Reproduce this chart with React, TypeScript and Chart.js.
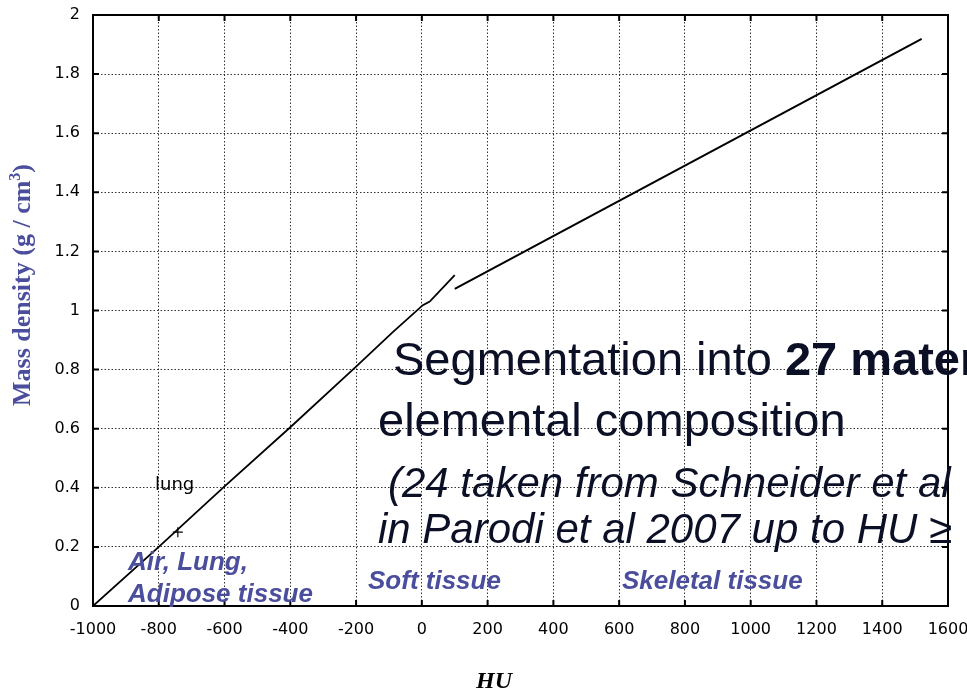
import React, { useEffect, useRef } from 'react';
import { Chart, registerables } from 'chart.js';

Chart.register(...registerables);

// Low-density branch (air, lung, adipose, soft tissue)
const lowHU = [-1000, -800, -600, -400, -200, -90, 3, 24, 100];
const lowDensity = [0, 0.2, 0.405, 0.605, 0.81, 0.925, 1.018, 1.03, 1.12];
// Skeletal branch
const highHU = [100, 1520];
const highDensity = [1.073, 1.919];
// "lung" marker
const lungHU = [-742];
const lungDensity = [0.25];

const xTickValues = [-1000, -800, -600, -400, -200, 0, 200, 400, 600, 800, 1000, 1200, 1400, 1600];
const yTickValues = [0, 0.2, 0.4, 0.6, 0.8, 1, 1.2, 1.4, 1.6, 1.8, 2];

const BLUE = '#4a4e9c';
const NAVY = '#0c1026';

const overlayPlugin = {
  id: 'overlay',
  afterDraw(chart: any) {
    const { ctx, chartArea: a, scales } = chart;
    const xs = scales.x;
    const ys = scales.y;
    ctx.save();
    // frame
    ctx.strokeStyle = '#000';
    ctx.lineWidth = 2;
    ctx.setLineDash([]);
    ctx.strokeRect(a.left, a.top, a.right - a.left, a.bottom - a.top);
    // inward tick marks
    ctx.lineWidth = 2;
    ctx.beginPath();
    xTickValues.forEach((v) => {
      const px = xs.getPixelForValue(v);
      ctx.moveTo(px, a.bottom);
      ctx.lineTo(px, a.bottom - 6);
      ctx.moveTo(px, a.top);
      ctx.lineTo(px, a.top + 6);
    });
    yTickValues.forEach((v) => {
      const py = ys.getPixelForValue(v);
      ctx.moveTo(a.left, py);
      ctx.lineTo(a.left + 6, py);
      ctx.moveTo(a.right, py);
      ctx.lineTo(a.right - 6, py);
    });
    ctx.stroke();

    // "lung" label
    ctx.fillStyle = '#000';
    ctx.font = '18px "DejaVu Sans"';
    ctx.textAlign = 'left';
    ctx.textBaseline = 'alphabetic';
    ctx.fillText('lung', 155, 490);

    // Blue region labels
    ctx.fillStyle = BLUE;
    ctx.font = 'italic bold 26px "Liberation Sans"';
    ctx.fillText('Air, Lung,', 128, 570);
    ctx.fillText('Adipose tissue', 128, 602);
    ctx.fillText('Soft tissue', 368, 589);
    ctx.fillText('Skeletal tissue', 622, 589);

    // Big overlay text
    ctx.fillStyle = NAVY;
    ctx.font = '47px "Liberation Sans"';
    const p1 = 'Segmentation into ';
    ctx.fillText(p1, 393, 375);
    const w1 = ctx.measureText(p1).width;
    ctx.font = 'bold 47px "Liberation Sans"';
    ctx.fillText('27 materials', 393 + w1, 375);
    ctx.font = '47px "Liberation Sans"';
    ctx.fillText('elemental composition', 378, 436);
    ctx.font = 'italic 42px "Liberation Sans"';
    ctx.fillText('(24 taken from Schneider et al', 388, 497);
    ctx.fillText('in Parodi et al 2007 up to HU \u2265', 378, 543);

    // X axis title
    ctx.fillStyle = '#000';
    ctx.font = 'italic bold 24px "Liberation Serif"';
    ctx.textAlign = 'center';
    ctx.fillText('HU', 494, 688);

    // Y axis title (rotated) with superscript
    ctx.save();
    ctx.translate(30, 285);
    ctx.rotate(-Math.PI / 2);
    ctx.fillStyle = BLUE;
    ctx.textAlign = 'left';
    const main = 'Mass density (g / cm';
    const bigFont = 'bold 26px "Liberation Serif"';
    const smallFont = 'bold 16px "Liberation Serif"';
    ctx.font = bigFont;
    const wm = ctx.measureText(main).width;
    const wp = ctx.measureText(')').width;
    ctx.font = smallFont;
    const ws = ctx.measureText('3').width;
    const total = wm + ws + wp;
    let sx = -total / 2;
    ctx.font = bigFont;
    ctx.fillText(main, sx, 0);
    sx += wm;
    ctx.font = smallFont;
    ctx.fillText('3', sx, -10);
    sx += ws;
    ctx.font = bigFont;
    ctx.fillText(')', sx, 0);
    ctx.restore();

    ctx.restore();
  },
};

export default function App() {
  const canvasRef = useRef<HTMLCanvasElement | null>(null);

  useEffect(() => {
    document.body.style.margin = '0';
    const canvas = canvasRef.current;
    if (!canvas) return;
    const chart = new Chart(canvas, {
      type: 'scatter',
      data: {
        datasets: [
          {
            data: lowHU.map((x, i) => ({ x, y: lowDensity[i] })),
            showLine: true,
            borderColor: '#000',
            borderWidth: 1.8,
            pointRadius: 0,
            tension: 0,
          },
          {
            data: highHU.map((x, i) => ({ x, y: highDensity[i] })),
            showLine: true,
            borderColor: '#000',
            borderWidth: 2,
            pointRadius: 0,
            tension: 0,
          },
          {
            data: lungHU.map((x, i) => ({ x, y: lungDensity[i] })),
            showLine: false,
            pointStyle: 'cross',
            pointRadius: 5,
            borderColor: '#000',
            borderWidth: 1.2,
          },
        ],
      },
      options: {
        animation: false,
        responsive: false,
        devicePixelRatio: 1,
        layout: { padding: { left: 0, top: 15, right: 19, bottom: 0 } },
        plugins: { legend: { display: false }, tooltip: { enabled: false } },
        scales: {
          x: {
            type: 'linear',
            min: -1000,
            max: 1600,
            afterBuildTicks: (s: any) => {
              s.ticks = xTickValues.map((v) => ({ value: v }));
            },
            afterFit: (s: any) => {
              s.height = 83;
              s.paddingLeft = 0;
              s.paddingRight = 0;
            },
            ticks: {
              color: '#000',
              font: { family: 'DejaVu Sans', size: 16 },
              padding: 14,
              maxRotation: 0,
              autoSkip: false,
              callback: (v: any) => String(v),
            },
            grid: { color: 'rgba(0,0,0,0.8)', lineWidth: 1, drawTicks: false },
            border: { display: true, color: '#000', width: 2, dash: [1.5, 2] },
          },
          y: {
            type: 'linear',
            min: 0,
            max: 2,
            afterBuildTicks: (s: any) => {
              s.ticks = yTickValues.map((v) => ({ value: v }));
            },
            afterFit: (s: any) => {
              s.width = 93;
              s.paddingTop = 0;
              s.paddingBottom = 0;
            },
            ticks: {
              color: '#000',
              font: { family: 'DejaVu Sans', size: 16 },
              padding: 13,
              autoSkip: false,
              callback: (v: any) => String(v),
            },
            grid: { color: 'rgba(0,0,0,0.8)', lineWidth: 1, drawTicks: false },
            border: { display: true, color: '#000', width: 2, dash: [1.5, 2] },
          },
        },
      },
      plugins: [overlayPlugin],
    });
    return () => chart.destroy();
  }, []);

  return (
    <div style={{ width: 967, height: 689, background: '#fff' }}>
      <canvas ref={canvasRef} width={967} height={689} style={{ display: 'block' }} />
    </div>
  );
}
